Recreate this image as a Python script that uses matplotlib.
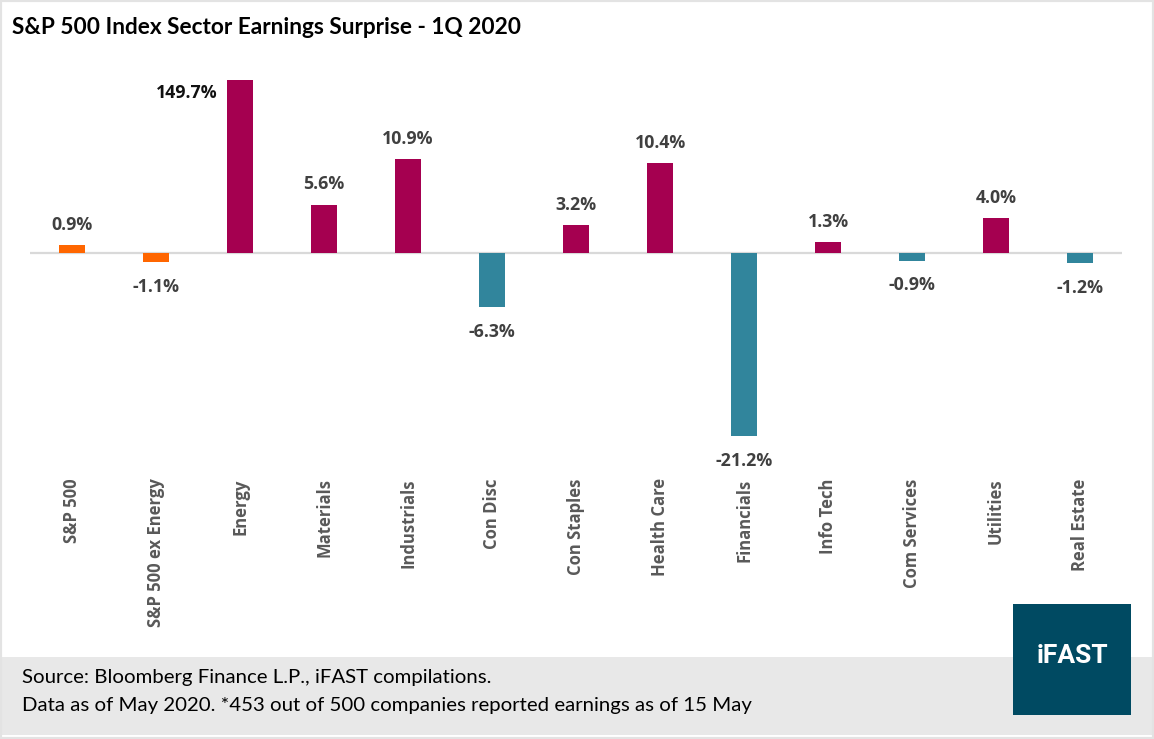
import numpy as np
import matplotlib
matplotlib.use('Agg')
import matplotlib.pyplot as plt
from matplotlib.patches import Rectangle

plt.rcParams['font.family'] = ['Lato', 'DejaVu Sans']

# data
sectors = ['S&P 500', 'S&P 500 ex Energy', 'Energy', 'Materials', 'Industrials',
           'Con Disc', 'Con Staples', 'Health Care', 'Financials', 'Info Tech',
           'Com Services', 'Utilities', 'Real Estate']
surprise = [0.9, -1.1, 149.7, 5.6, 10.9, -6.3, 3.2, 10.4, -21.2, 1.3, -0.9, 4.0, -1.2]

ORANGE = '#FF6600'
MAROON = '#A50050'
TEAL = '#31859C'
OPEN = ['Open Sans', 'DejaVu Sans']

# the axis is capped so the energy bar gets cut off
y_top = 20
y_bottom = -25.1

fig = plt.figure(figsize=(11.54, 7.39), dpi=100)
ax = fig.add_axes([0.026, 0.364, 0.9463, 0.5277])

colors = []
for i, v in enumerate(surprise):
    if i < 2:
        colors.append(ORANGE)
    elif v >= 0:
        colors.append(MAROON)
    else:
        colors.append(TEAL)

x = np.arange(len(sectors))
bars = ax.bar(x, np.clip(surprise, y_bottom, y_top), width=0.31, color=colors, zorder=3)

ax.set_xlim(-0.5, len(sectors) - 0.5)
ax.set_ylim(y_bottom, y_top)
ax.axhline(0, color='#D9D9D9', lw=1.6, zorder=2)

for i, v in enumerate(surprise):
    txt = f'{v:.1f}%'
    if v > y_top:
        # value off the chart, put label beside the bar
        ax.annotate(txt, (x[i] - 0.155, y_top), xytext=(-7, -9), textcoords='offset points',
                    ha='right', va='center', fontsize=12.8, fontweight='bold',
                    color='#111111', fontfamily=OPEN)
    elif v >= 0:
        ax.annotate(txt, (x[i], v), xytext=(0, 8), textcoords='offset points',
                    ha='center', va='bottom', fontsize=12.8, fontweight='bold',
                    color='#404040', fontfamily=OPEN)
    else:
        ax.annotate(txt, (x[i], v), xytext=(0, -11), textcoords='offset points',
                    ha='center', va='top', fontsize=12.8, fontweight='bold',
                    color='#404040', fontfamily=OPEN)

ax.set_xticks(x)
ax.set_xticklabels(sectors, rotation=90, ha='center', va='top', fontsize=12,
                   color='#595959', fontweight='bold', fontfamily=OPEN)
ax.tick_params(axis='x', length=0, pad=6)
ax.set_yticks([])
for s in ax.spines.values():
    s.set_visible(False)

# title
fig.text(12 / 1154, 1 - 27 / 739, 'S&P 500 Index Sector Earnings Surprise - 1Q 2020',
         ha='left', va='center', fontsize=16.3, fontweight='bold', color='black')

# footer band
fig.patches.append(Rectangle((0, 1 - 735 / 739), 1, 78 / 739, transform=fig.transFigure,
                             facecolor='#E8E8E8', edgecolor='none', zorder=0))
fig.text(22 / 1154, 1 - 678 / 739, 'Source: Bloomberg Finance L.P., iFAST compilations.',
         ha='left', va='center', fontsize=14.7, color='black')
fig.text(22 / 1154, 1 - 706 / 739,
         'Data as of May 2020. *453 out of 500 companies reported earnings as of 15 May',
         ha='left', va='center', fontsize=14.7, color='black')

# logo box
fig.patches.append(Rectangle((1013 / 1154, 1 - 715 / 739), 118 / 1154, 111 / 739,
                             transform=fig.transFigure, facecolor='#004A62',
                             edgecolor='none', zorder=2))
fig.text(1072 / 1154, 1 - 656 / 739, 'iFAST', ha='center', va='center', fontsize=19,
         fontweight='bold', color='white', fontfamily=['Roboto', 'DejaVu Sans'], zorder=3)

# light frame
fig.patches.append(Rectangle((0, 0), 1, 1, transform=fig.transFigure, facecolor='none',
                             edgecolor='#E3E3E3', lw=3, zorder=5))

fig.savefig('out.png', dpi=100)
